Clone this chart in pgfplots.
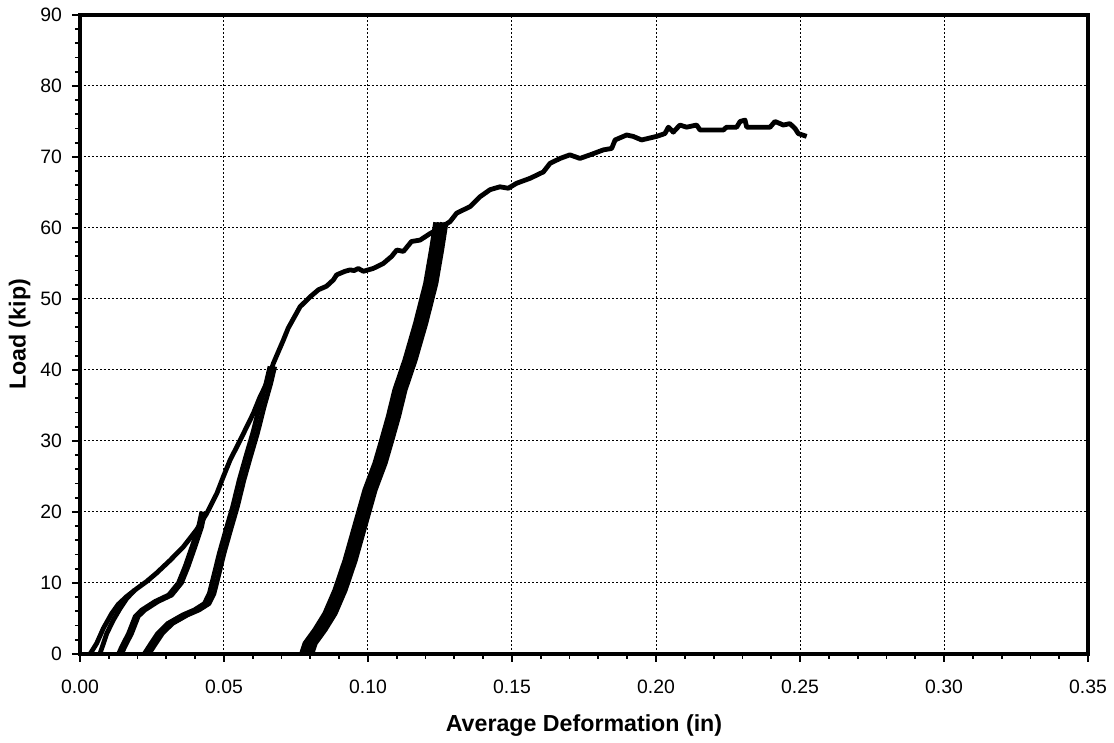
\documentclass[border=0pt]{standalone}
\usepackage{pgfplots}
\pgfplotsset{compat=1.18}
\usepackage{pgfplotstable}
\usepackage{fontspec}
\setmainfont{Liberation Sans}

\pgfplotstableread{
x y
0.0035 0
0.0058 1.5
0.0081 3.6
0.0110 5.7
0.0133 7.0
0.0162 8.1
0.0197 9.2
0.0231 10.2
0.0266 11.4
0.0313 13.2
0.0359 15.1
0.0405 17.5
0.0440 19.8
0.0475 22.6
0.0498 25.0
0.0521 27.3
0.0556 30.1
0.0579 32.0
0.0602 33.9
0.0625 36.2
0.0648 38.1
0.0671 40.9
0.0706 44.2
0.0723 45.9
0.0764 48.9
0.0799 50.3
0.0828 51.3
0.0856 51.8
0.0880 52.7
0.0891 53.4
0.0920 53.9
0.0938 54.1
0.0952 54.0
0.0966 54.3
0.0984 53.9
0.1018 54.3
0.1053 55.0
0.1082 56.0
0.1100 56.9
0.1123 56.7
0.1151 58.1
0.1181 58.3
0.1215 59.2
0.1250 60.0
0.1285 60.9
0.1308 62.1
0.1354 63.0
0.1389 64.4
0.1424 65.4
0.1458 65.8
0.1487 65.6
0.1516 66.3
0.1563 67.0
0.1609 67.9
0.1632 69.1
0.1667 69.8
0.1701 70.3
0.1736 69.8
0.1771 70.3
0.1817 71.0
0.1846 71.2
0.1858 72.4
0.1898 73.1
0.1921 72.9
0.1950 72.4
0.2002 72.9
0.2031 73.3
0.2043 74.2
0.2060 73.5
0.2083 74.5
0.2106 74.2
0.2141 74.5
0.2153 73.8
0.2234 73.8
0.2245 74.2
0.2280 74.2
0.2292 75.0
0.2309 75.2
0.2315 74.2
0.2396 74.2
0.2413 75.0
0.2431 74.7
0.2442 74.5
0.2465 74.7
0.2483 74.0
0.2494 73.3
0.2523 72.9
}\envelope

\pgfplotstableread{
x y
0.0069 0
0.0093 2.9
0.0116 4.8
0.0139 6.4
0.0162 7.8
0.0190 9.0
}\first

\pgfplotstableread{
x y
0.0428 20.0
0.0417 17.9
0.0394 15.1
0.0370 12.3
0.0347 10.0
0.0313 8.3
0.0266 7.4
0.0220 6.2
0.0197 5.3
0.0174 2.9
0.0150 1.0
0.0139 0
}\loopa

\pgfplotstableread{
x y
0.0668 40.5
0.0654 38.1
0.0631 34.8
0.0608 31.1
0.0584 27.8
0.0561 24.5
0.0538 20.7
0.0515 17.5
0.0492 14.2
0.0475 11.4
0.0457 8.5
0.0440 7.1
0.0405 6.2
0.0365 5.5
0.0313 4.3
0.0278 2.9
0.0255 1.5
0.0231 0
}\loopb

\pgfplotstableread{
x y
0.1253 60.8
0.1238 56.9
0.1218 52.2
0.1183 46.6
0.1146 41.4
0.1111 37.2
0.1088 33.4
0.1065 30.1
0.1042 26.9
0.1007 23.1
0.0984 19.8
0.0961 16.5
0.0938 13.2
0.0903 9.0
0.0868 5.7
0.0833 3.4
0.0799 1.5
0.0787 0
}\loopc

\begin{document}
\begin{tikzpicture}
\path[use as bounding box] (-40pt,-44.5pt) rectangle (517pt,327pt);
\begin{axis}[
  scale only axis,
  width=504pt, height=319.5pt,
  xmin=0, xmax=0.35, ymin=0, ymax=90,
  xtick={0,0.05,...,0.35},
  ytick={0,10,...,90},
  minor x tick num=4,
  minor y tick num=4,
  tick align=outside,
  xtick pos=left, ytick pos=left,
  major tick length=4pt,
  minor tick length=2.5pt,
  every tick/.style={black, line width=0.9pt},
  axis line style={line width=2pt},
  grid=major,
  major grid style={black, line width=0.5pt, dash pattern=on 1.2pt off 0.8pt},
  /pgf/number format/assume math mode=true,
  ticklabel style={font=\fontsize{9.7}{11}\selectfont},
  xticklabel style={yshift=-5.5pt, /pgf/number format/fixed, /pgf/number format/fixed zerofill, /pgf/number format/precision=2},
  yticklabel style={xshift=-1.5pt},
  xlabel={Average Deformation (in)},
  ylabel={Load (kip)},
  label style={font=\fontsize{11.6}{13}\selectfont\bfseries},
  xlabel style={at={(axis description cs:0.5,-0.121)}, anchor=base},
  ylabel style={at={(axis description cs:-0.054,0.5)}, anchor=base},
  clip=false,
]
\addplot[black, line width=2.4pt, line join=round] table[x=x,y=y] {\envelope};
\addplot[black, line width=2.4pt, line join=round] table[x=x,y=y] {\first};
\addplot[black, line width=2.4pt, line join=round] table[x expr=\thisrow{x}-0.0005,y=y] {\loopa};
\addplot[black, line width=2.4pt, line join=round] table[x expr=\thisrow{x}+0.0005,y=y] {\loopa};
\addplot[black, line width=2.4pt, line join=round] table[x expr=\thisrow{x}-0.0008,y=y] {\loopb};
\addplot[black, line width=2.4pt, line join=round] table[x expr=\thisrow{x}+0.0008,y=y] {\loopb};
\addplot[black, line width=2.4pt, line join=round] table[x expr=\thisrow{x}-0.0018,y=y] {\loopc};
\addplot[black, line width=2.4pt, line join=round] table[x expr=\thisrow{x}-0.0006,y=y] {\loopc};
\addplot[black, line width=2.4pt, line join=round] table[x expr=\thisrow{x}+0.0006,y=y] {\loopc};
\addplot[black, line width=2.4pt, line join=round] table[x expr=\thisrow{x}+0.0018,y=y] {\loopc};
\end{axis}
\end{tikzpicture}
\end{document}
